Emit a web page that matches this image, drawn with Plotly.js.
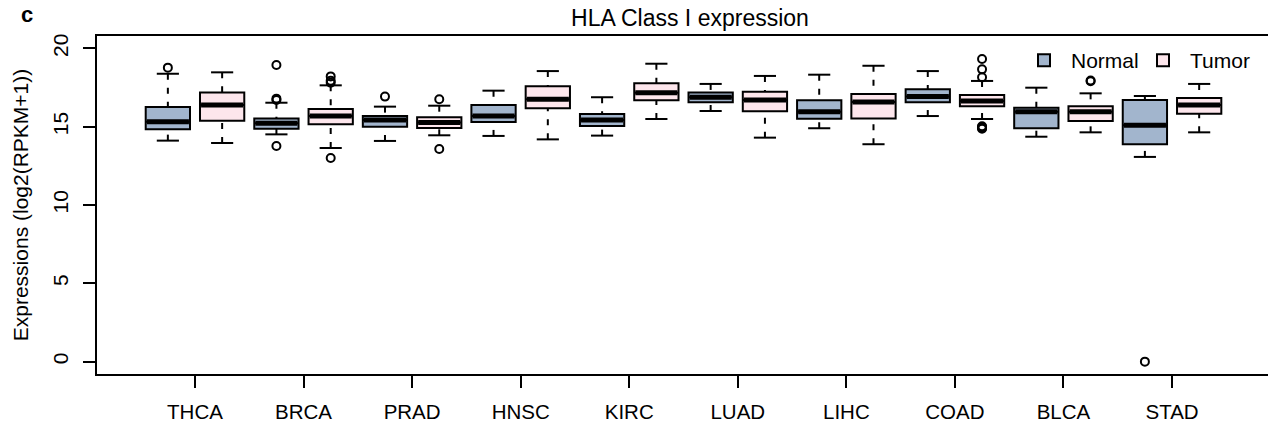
<!DOCTYPE html>
<html>
<head>
<meta charset="utf-8">
<script src="https://cdn.plot.ly/plotly-3.0.1.min.js"></script>
<style>html,body{margin:0;padding:0;background:#fff;}#chart{width:1268px;height:423px;}</style>
</head>
<body>
<div id="chart"></div>
<script>
// ---- data ----
const categories = ['THCA','BRCA','PRAD','HNSC','KIRC','LUAD','LIHC','COAD','BLCA','STAD'];

const normalLower  = [14.11, 14.51, 14.09, 14.41, 14.43, 16.00, 14.90, 15.68, 14.36, 13.07];
const normalQ1     = [14.83, 14.87, 15.00, 15.30, 15.04, 16.56, 15.51, 16.56, 14.90, 13.88];
const normalMedian = [15.32, 15.22, 15.43, 15.68, 15.43, 16.88, 15.96, 16.92, 15.96, 15.09];
const normalQ3     = [16.26, 15.53, 15.68, 16.38, 15.81, 17.19, 16.68, 17.39, 16.21, 16.70];
const normalUpper  = [18.38, 16.53, 16.28, 17.30, 16.88, 17.73, 18.32, 18.55, 17.49, 16.96];
const normalOutliers = [[18.77], [18.94, 16.79, 16.70, 13.77], [16.92], [], [], [], [], [], [], [0.0]];

const tumorLower  = [13.96, 13.64, 14.45, 14.19, 15.49, 14.30, 13.88, 15.49, 14.64, 14.64];
const tumorQ1     = [15.38, 15.15, 14.92, 16.17, 16.68, 15.98, 15.53, 16.30, 15.36, 15.83];
const tumorMedian = [16.38, 15.68, 15.26, 16.75, 17.17, 16.70, 16.58, 16.64, 15.96, 16.38];
const tumorQ3     = [17.19, 16.13, 15.60, 17.58, 17.77, 17.23, 17.09, 17.02, 16.30, 16.83];
const tumorUpper  = [18.47, 17.64, 16.34, 18.55, 19.02, 18.24, 18.89, 17.92, 17.13, 17.73];
const tumorOutliers = [[], [18.21, 17.94, 17.81, 13.00], [16.75, 13.58], [], [], [], [], [19.32, 18.66, 18.15, 15.02, 14.97, 14.92, 14.87], [17.95, 17.90], []];

const yTicks = [0, 5, 10, 15, 20];

// ---- styling ----
const FONT = 'Liberation Sans, Arial, Helvetica, sans-serif';
const normalFill = '#A2B5CD';
const tumorFill = '#FDE6EC';
const OFFSET = 0.25, BOXW = 0.408, CAPW = 0.204;

function series(name, fill, off, lo, q1, med, q3, up, outs) {
  const pos = categories.map((c, i) => i + off);
  const traces = [];
  traces.push({
    type: 'box', name: name, x: pos,
    q1: q1, median: med, q3: q3, lowerfence: q1, upperfence: q3,
    width: BOXW, whiskerwidth: 0, boxpoints: false,
    fillcolor: fill, line: {color: '#000', width: 2},
    hoverinfo: 'skip', showlegend: true, legendgroup: name
  });
  // whiskers (dashed)
  const wx = [], wy = [];
  pos.forEach((p, i) => {
    wx.push(p, p, null, p, p, null);
    wy.push(lo[i], q1[i], null, up[i], q3[i], null);
  });
  traces.push({type: 'scatter', mode: 'lines', x: wx, y: wy,
    line: {color: '#000', width: 2, dash: '6px,8px'}, showlegend: false, hoverinfo: 'skip'});
  // caps
  const cx = [], cy = [];
  pos.forEach((p, i) => {
    cx.push(p - CAPW/2, p + CAPW/2, null, p - CAPW/2, p + CAPW/2, null);
    cy.push(lo[i], lo[i], null, up[i], up[i], null);
  });
  traces.push({type: 'scatter', mode: 'lines', x: cx, y: cy,
    line: {color: '#000', width: 2}, showlegend: false, hoverinfo: 'skip'});
  // thick medians
  const mx = [], my = [];
  pos.forEach((p, i) => {
    mx.push(p - BOXW/2 + 0.01, p + BOXW/2 - 0.01, null);
    my.push(med[i], med[i], null);
  });
  traces.push({type: 'scatter', mode: 'lines', x: mx, y: my,
    line: {color: '#000', width: 5}, showlegend: false, hoverinfo: 'skip'});
  // outliers
  const ox = [], oy = [];
  pos.forEach((p, i) => { outs[i].forEach(v => { ox.push(p); oy.push(v); }); });
  traces.push({type: 'scatter', mode: 'markers', x: ox, y: oy,
    marker: {symbol: 'circle-open', size: 8, color: '#000', line: {width: 2, color: '#000'}},
    showlegend: false, hoverinfo: 'skip'});
  return traces;
}

const data = [].concat(
  series('Normal', normalFill, -OFFSET, normalLower, normalQ1, normalMedian, normalQ3, normalUpper, normalOutliers),
  series('Tumor', tumorFill, OFFSET, tumorLower, tumorQ1, tumorMedian, tumorQ3, tumorUpper, tumorOutliers)
);

const layout = {
  width: 1268, height: 423,
  margin: {l: 97, r: 0, t: 36, b: 49, pad: 0, autoexpand: false},
  paper_bgcolor: '#fff', plot_bgcolor: '#fff',
  font: {family: FONT, color: '#000', size: 21},
  boxmode: 'overlay',
  title: {text: 'HLA Class I expression', font: {family: FONT, size: 23, color: '#000'},
    x: 690/1268, xref: 'container', xanchor: 'center', y: 1 - 18/423, yref: 'container', yanchor: 'middle'},
  xaxis: {
    range: [-0.9027, 9.884], tickmode: 'array', tickvals: categories.map((c, i) => i), ticktext: categories,
    showgrid: false, zeroline: false, showline: true, linewidth: 2, linecolor: '#000', mirror: true,
    ticks: 'outside', ticklen: 12, tickwidth: 2, tickcolor: '#000',
    tickfont: {family: FONT, size: 20.5, color: '#000'}, ticklabelstandoff: 6
  },
  yaxis: {
    range: [-0.79, 20.79], tickmode: 'array', tickvals: yTicks, ticktext: yTicks.map(String),
    showgrid: false, zeroline: false, showline: true, linewidth: 2, linecolor: '#000',
    ticks: 'outside', ticklen: 12, tickwidth: 2, tickcolor: '#000', tickangle: -90,
    tickfont: {family: FONT, size: 21, color: '#000'}, ticklabelstandoff: 7,
    title: {text: 'Expressions (log2(RPKM+1))', font: {family: FONT, size: 21, color: '#000'}, standoff: 14}
  },
  showlegend: true,
  legend: {orientation: 'h', x: (1017-97)/1171, xanchor: 'left', y: 1 - (40-36)/338, yanchor: 'top',
    itemwidth: 44, entrywidth: 60, entrywidthmode: 'pixels',
    font: {family: FONT, size: 21, color: '#000'}, bgcolor: 'rgba(0,0,0,0)', traceorder: 'normal'},
  annotations: [{text: '<b>c</b>', xref: 'paper', yref: 'paper', x: (27-97)/1171, y: (374-1)/338,
    xanchor: 'center', yanchor: 'top', borderpad: 0, showarrow: false, font: {family: FONT, size: 22, color: '#000'}}]
};

Plotly.newPlot('chart', data, layout, {displayModeBar: false, staticPlot: true});
</script>
</body>
</html>
